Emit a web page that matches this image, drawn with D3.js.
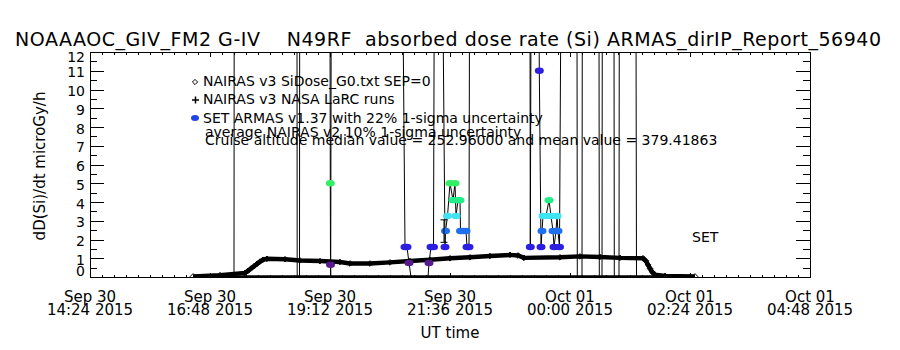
<!DOCTYPE html>
<html lang="en">
<head>
<meta charset="UTF-8">
<title>NOAAAOC_GIV_FM2 absorbed dose rate</title>
<script src="https://cdn.jsdelivr.net/npm/d3@7"></script>
<style>
  body { margin: 0; background: #fff; }
  svg { display: block; font-family: "DejaVu Sans", sans-serif; }
  .axis path, .axis line { stroke: #000; shape-rendering: crispEdges; }
</style>
</head>
<body>
<div id="chart"></div>
<script>
// NAIRAS v3 model along the flight track
const nairasTimes = [
  "2015-09-30T16:27:36", "2015-09-30T17:00:00", "2015-09-30T17:30:00", "2015-09-30T17:33:36",
  "2015-09-30T17:37:12", "2015-09-30T17:40:48", "2015-09-30T17:44:24", "2015-09-30T17:48:00",
  "2015-09-30T17:51:36", "2015-09-30T17:56:24", "2015-09-30T18:18:00", "2015-09-30T18:36:00",
  "2015-09-30T19:00:00", "2015-09-30T19:24:00", "2015-09-30T19:36:00", "2015-09-30T20:00:00",
  "2015-09-30T20:24:00", "2015-09-30T20:48:00", "2015-09-30T21:12:00", "2015-09-30T21:36:00",
  "2015-09-30T22:00:00", "2015-09-30T22:24:00", "2015-09-30T22:48:00", "2015-09-30T22:57:36",
  "2015-09-30T23:04:48", "2015-09-30T23:48:00", "2015-10-01T00:12:00", "2015-10-01T00:36:00",
  "2015-10-01T01:00:00", "2015-10-01T01:27:36", "2015-10-01T01:31:12", "2015-10-01T01:33:36",
  "2015-10-01T01:36:00", "2015-10-01T01:38:24", "2015-10-01T01:42:00", "2015-10-01T01:54:00",
  "2015-10-01T02:30:00"
];
const nairasValues = [
  0.03, 0.10, 0.22, 0.33, 0.45, 0.57, 0.70, 0.82, 0.92, 0.97, 0.95, 0.88,
  0.85, 0.80, 0.72, 0.72, 0.78, 0.85, 0.92, 1.00, 1.05, 1.12, 1.18, 1.15,
  1.02, 1.05, 1.10, 1.07, 1.02, 1.00, 0.85, 0.65, 0.45, 0.28, 0.12, 0.06, 0.03
];

// SET ARMAS v1.37 (values above 12 leave the top of the plot)
const armasTimes = [
  "2015-09-30T17:16:48", "2015-09-30T17:17:02", "2015-09-30T18:32:24", "2015-09-30T18:32:38",
  "2015-09-30T18:35:24", "2015-09-30T18:35:38", "2015-09-30T19:12:00", "2015-09-30T19:12:22",
  "2015-09-30T19:12:36", "2015-09-30T19:12:50", "2015-09-30T19:13:26", "2015-09-30T20:39:36",
  "2015-09-30T20:42:00", "2015-09-30T20:44:24", "2015-09-30T20:46:48", "2015-09-30T20:49:12",
  "2015-09-30T21:09:36", "2015-09-30T21:10:48", "2015-09-30T21:13:12", "2015-09-30T21:16:12",
  "2015-09-30T21:17:02", "2015-09-30T21:27:36", "2015-09-30T21:30:00", "2015-09-30T21:30:36",
  "2015-09-30T21:33:00", "2015-09-30T21:36:00", "2015-09-30T21:39:36", "2015-09-30T21:42:00",
  "2015-09-30T21:43:12", "2015-09-30T21:45:36", "2015-09-30T21:48:00", "2015-09-30T21:48:36",
  "2015-09-30T21:51:36", "2015-09-30T21:55:12", "2015-09-30T21:56:24", "2015-09-30T21:58:48",
  "2015-09-30T21:59:24", "2015-09-30T23:12:00", "2015-09-30T23:12:22", "2015-09-30T23:13:12",
  "2015-09-30T23:22:48", "2015-09-30T23:23:10", "2015-09-30T23:25:12", "2015-09-30T23:26:24",
  "2015-09-30T23:27:36", "2015-09-30T23:31:12", "2015-09-30T23:34:48", "2015-09-30T23:37:12",
  "2015-09-30T23:39:36", "2015-09-30T23:40:48", "2015-09-30T23:43:12", "2015-09-30T23:44:24",
  "2015-09-30T23:45:36", "2015-09-30T23:47:24", "2015-09-30T23:48:58", "2015-10-01T00:08:24",
  "2015-10-01T00:08:46", "2015-10-01T00:14:24", "2015-10-01T00:14:46", "2015-10-01T00:34:48",
  "2015-10-01T00:35:10", "2015-10-01T00:38:24", "2015-10-01T00:38:46", "2015-10-01T00:52:48",
  "2015-10-01T00:53:10", "2015-10-01T00:58:48", "2015-10-01T00:59:10", "2015-10-01T01:19:12",
  "2015-10-01T01:19:48"
];
const armasValues = [
  0, 40, 40, 0, 0, 40, 40, 5.0, 0.65, 0, 40, 40,
  1.6, 1.6, 0.75, 0, 0, 0.75, 1.6, 1.6, 40, 40, 1.6, 2.45,
  3.25, 5.0, 4.1, 5.0, 3.25, 4.1, 4.1, 2.45, 2.45, 2.45, 1.6, 1.6,
  40, 40, 1.6, 40, 40, 11.0, 1.6, 2.45, 3.25, 3.25, 4.1, 3.25,
  2.45, 1.6, 2.45, 3.25, 2.45, 1.6, 40, 40, 0, 0, 40, 40,
  0, 0, 40, 40, 0, 0, 40, 40, 0
];

// NAIRAS v3 NASA LaRC run with its 1-sigma bar
const larcTimes = ["2015-09-30T21:28:48"];
const larcValues = [2.45];
const larcErrors = [0.6];

// zero-level trace along the bottom of the flight
const baseTimes = ["2015-09-30T16:27:36", "2015-10-01T02:30:00"];
const baseValues = [0, 0];

const xTickTimes = [
  "2015-09-30T14:24:00", "2015-09-30T16:48:00", "2015-09-30T19:12:00", "2015-09-30T21:36:00",
  "2015-10-01T00:00:00", "2015-10-01T02:24:00", "2015-10-01T04:48:00"
];
const yTickValues = [0, 1, 2, 3, 4, 5, 6, 7, 8, 9, 10, 11, 12];

const legendLabels = [
  "NAIRAS v3 SiDose_G0.txt SEP=0",
  "NAIRAS v3 NASA LaRC runs",
  "SET ARMAS v1.37 with 22% 1-sigma uncertainty",
  "average NAIRAS v2 10% 1-sigma uncertainty",
  "Cruise altitude median value = 252.96000 and mean value = 379.41863"
];
const titleText = "NOAAAOC_GIV_FM2 G-IV    N49RF  absorbed dose rate (Si) ARMAS_dirIP_Report_56940";

// dose-rate colour levels for the ARMAS points
const levelBreaks = [1.2, 2.0, 2.9, 3.7, 4.6, 8];
const levelColors = ["#561a8e", "#2c1fe2", "#1f70ef", "#3fe3f2", "#22ee88", "#33ee66", "#2c1fe2"];

const W = 900, H = 350;
const margin = { top: 52, right: 90, bottom: 73, left: 90 };
const width = W - margin.left - margin.right;
const height = H - margin.top - margin.bottom;

const parseTime = d3.utcParse("%Y-%m-%dT%H:%M:%S");
const xTicks = xTickTimes.map(parseTime);

const svg = d3.select("#chart").append("svg")
  .attr("width", W).attr("height", H);

svg.append("defs").append("clipPath").attr("id", "plot-clip")
  .append("rect").attr("width", width).attr("height", height);

const g = svg.append("g").attr("transform", `translate(${margin.left},${margin.top})`);

const x = d3.scaleUtc().domain([xTicks[0], xTicks[xTicks.length - 1]]).range([0, width]);
const y = d3.scaleLinear().domain([0, 12]).range([height, 0]);
const color = d3.scaleThreshold().domain(levelBreaks).range(levelColors);

const nairas = nairasTimes.map((t, i) => ({ t: parseTime(t), v: nairasValues[i] }));
const armas = armasTimes.map((t, i) => ({ t: parseTime(t), v: armasValues[i] }));
const larc = larcTimes.map((t, i) => ({ t: parseTime(t), v: larcValues[i], e: larcErrors[i] }));
const base = baseTimes.map((t, i) => ({ t: parseTime(t), v: baseValues[i] }));

// minor ticks
const xMinor = [];
xTicks.slice(1).forEach((t1, i) => {
  const t0 = xTicks[i];
  for (let k = 1; k < 10; k++) xMinor.push(new Date(+t0 + (t1 - t0) * k / 10));
});
const yMinor = yTickValues.slice(1).map(v => v - 0.5);

// axes box with inward ticks on all four sides
function axisLayer(axis, tx, ty) {
  g.append("g").attr("class", "axis")
    .attr("transform", `translate(${tx},${ty})`)
    .call(axis)
    .call(s => s.selectAll("text").remove());
}
axisLayer(d3.axisBottom(x).tickValues(xTicks).tickSize(-4.5).tickSizeOuter(0), 0, height);
axisLayer(d3.axisBottom(x).tickValues(xMinor).tickSize(-2.5).tickSizeOuter(0), 0, height);
axisLayer(d3.axisTop(x).tickValues(xTicks).tickSize(-4.5).tickSizeOuter(0), 0, 0);
axisLayer(d3.axisTop(x).tickValues(xMinor).tickSize(-2.5).tickSizeOuter(0), 0, 0);
axisLayer(d3.axisLeft(y).tickValues(yTickValues).tickSize(-14).tickSizeOuter(0), 0, 0);
axisLayer(d3.axisLeft(y).tickValues(yMinor).tickSize(-7).tickSizeOuter(0), 0, 0);
axisLayer(d3.axisRight(y).tickValues(yTickValues).tickSize(-14).tickSizeOuter(0), width, 0);
axisLayer(d3.axisRight(y).tickValues(yMinor).tickSize(-7).tickSizeOuter(0), width, 0);

// tick labels
const fmtDay = d3.utcFormat("%b %d");
const fmtTime = d3.utcFormat("%H:%M %Y");
xTicks.forEach(t => {
  const lbl = g.append("text").attr("text-anchor", "middle").attr("font-size", 15)
    .attr("transform", `translate(${x(t)},0)`);
  lbl.append("tspan").attr("x", 0).attr("y", height + 25).text(fmtDay(t));
  lbl.append("tspan").attr("x", 0).attr("y", height + 38).text(fmtTime(t));
});
yTickValues.forEach(v => {
  const cy = Math.max(5, Math.min(height - 6, y(v) + 1.5));
  g.append("text").attr("x", -5).attr("y", cy + 5)
    .attr("text-anchor", "end").attr("font-size", 14).text(v);
});

// axis titles
svg.append("text").attr("x", 450).attr("y", 338).attr("text-anchor", "middle")
  .attr("font-size", 15).text("UT time");
svg.append("text").attr("transform", "translate(45,166) rotate(-90)")
  .attr("text-anchor", "middle").attr("font-size", 15).text("dD(Si)/dt microGy/h");
svg.append("text").attr("x", 15).attr("y", 46).attr("font-size", 19)
  .attr("textLength", 866).attr("lengthAdjust", "spacing")
  .style("white-space", "pre").text(titleText);

const plot = g.append("g").attr("clip-path", "url(#plot-clip)");

// zero trace and NAIRAS model
plot.append("path").datum(base)
  .attr("fill", "none").attr("stroke", "#000").attr("stroke-width", 3.5)
  .attr("d", d3.line().x(d => x(d.t)).y(d => y(d.v)));

plot.append("path").datum(nairas)
  .attr("fill", "none").attr("stroke", "#000").attr("stroke-width", 4.5)
  .attr("stroke-linejoin", "round")
  .attr("d", d3.line().x(d => x(d.t)).y(d => y(d.v)));

const diamond = s => `M0,${-s}L${s},0L0,${s}L${-s},0Z`;
plot.selectAll(".nairas-pt").data(nairas).join("path")
  .attr("class", "nairas-pt")
  .attr("transform", d => `translate(${x(d.t)},${y(d.v)})`)
  .attr("d", diamond(2.8))
  .attr("fill", "none").attr("stroke", "#000").attr("stroke-width", 1);

// ARMAS trace and points
plot.append("path").datum(armas)
  .attr("fill", "none").attr("stroke", "#000").attr("stroke-width", 1)
  .attr("d", d3.line().x(d => x(d.t)).y(d => y(Math.min(d.v, 14))));

plot.selectAll(".armas-pt").data(armas.filter(d => d.v > 0.3 && d.v <= 12)).join("ellipse")
  .attr("class", "armas-pt")
  .attr("cx", d => x(d.t)).attr("cy", d => y(d.v))
  .attr("rx", 4.5).attr("ry", 3.2)
  .attr("fill", d => color(d.v));

// LaRC run with error bar
larc.forEach(d => {
  const cx = x(d.t);
  plot.append("line").attr("x1", cx).attr("x2", cx)
    .attr("y1", y(d.v - d.e)).attr("y2", y(d.v + d.e)).attr("stroke", "#000");
  [d.v - d.e, d.v + d.e].forEach(v => plot.append("line")
    .attr("x1", cx - 3.5).attr("x2", cx + 3.5).attr("y1", y(v)).attr("y2", y(v))
    .attr("stroke", "#000"));
});

// legend
const legend = svg.append("g").attr("font-size", 14);
const legendY = [86, 104, 123, 137, 145];
legendLabels.forEach((txt, i) => {
  legend.append("text").attr("x", i < 3 ? 203 : 205).attr("y", legendY[i]).text(txt);
});
legend.append("path").attr("transform", "translate(195,82)").attr("d", diamond(2.6))
  .attr("fill", "#fff").attr("stroke", "#000");
legend.append("path").attr("d", "M192,100H199M195.5,96.5V103.5").attr("stroke", "#000").attr("stroke-width", 1.5);
legend.append("ellipse").attr("cx", 195).attr("cy", 118).attr("rx", 4).attr("ry", 3)
  .attr("fill", "#1f45e8");

svg.append("text").attr("x", 692).attr("y", 242).attr("font-size", 14).text("SET");
</script>
</body>
</html>
